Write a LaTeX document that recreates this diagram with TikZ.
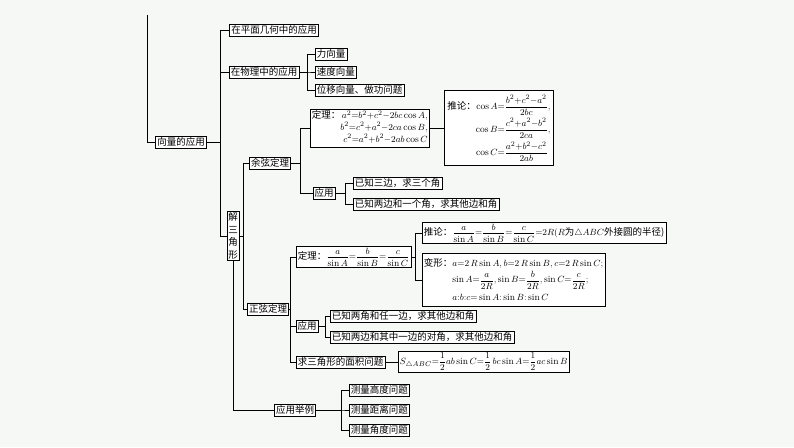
\documentclass[tikz,border=0pt]{standalone}
\usepackage{amsmath}
\usepackage{fontspec}
\newfontfamily\cjk{Noto Sans CJK SC}
\usepackage{tikz}
\definecolor{bgpaper}{RGB}{245,248,245}
\tikzset{
  box/.style={draw, line width=0.7pt, fill=white, inner sep=1.6pt, font=\cjk\fontsize{9.5}{11}\selectfont},
  link/.style={line width=0.7pt}
}
\begin{document}
\begin{tikzpicture}[x=1pt,y=-1pt]
\fill[bgpaper] (0,0) rectangle (794,447);
\useasboundingbox (0,0) rectangle (794,447);
% left trunk
\coordinate (top) at (147,15);
\node[box] (vec) at (181,142) {向量的应用};
\node[box] (plane) at (274,30) {在平面几何中的应用};
\node[box] (phys) at (264,72) {在物理中的应用};
\node[box, anchor=west] (force) at (315,54) {力向量};
\node[box, anchor=west] (speed) at (315,72) {速度向量};
\node[box, anchor=west] (move) at (315,90) {位移向量、做功问题};
\node[box, align=center, inner sep=1.2pt, font=\cjk\fontsize{9.5}{12.5}\selectfont] (tri) at (233,236) {解\\三\\角\\形};
% cosine part
\node[box] (cosl) at (270,163) {余弦定理};
\node[box, anchor=west] (costh) at (310,128) {\begin{tabular}{@{}l@{}r@{}}定理：&$a^2{=}b^2{+}c^2{-}2bc\cos A,$\\&$b^2{=}c^2{+}a^2{-}2ca\cos B,$\\&$c^2{=}a^2{+}b^2{-}2ab\cos C$\end{tabular}};
\node[box, anchor=west, inner sep=3pt] (cosre) at (444,128) {\renewcommand{\arraystretch}{2.1}\begin{tabular}{@{}l@{}r@{}}推论：&$\cos A{=}\dfrac{b^2{+}c^2{-}a^2}{2bc},$\\&$\cos B{=}\dfrac{c^2{+}a^2{-}b^2}{2ca},$\\&$\cos C{=}\dfrac{a^2{+}b^2{-}c^2}{2ab}\phantom{,}$\end{tabular}};
\node[box] (cosuse) at (324,193) {应用};
\node[box, anchor=west] (c1) at (353,183) {已知三边，求三个角};
\node[box, anchor=west] (c2) at (353,204) {已知两边和一个角，求其他边和角};
% sine part
\node[box] (sinl) at (268,309) {正弦定理};
\node[box, anchor=west] (sinth) at (296,257) {定理：$\dfrac{a}{\sin A}{=}\dfrac{b}{\sin B}{=}\dfrac{c}{\sin C}$};
\node[box, anchor=west] (sinre) at (422,233) {推论：$\dfrac{a}{\sin A}{=}\dfrac{b}{\sin B}{=}\dfrac{c}{\sin C}{=}2R(R$为$\triangle ABC$外接圆的半径)};
\node[box, anchor=west] (sinvar) at (422,280) {\renewcommand{\arraystretch}{1.45}\begin{tabular}{@{}l@{}l@{}}变形：&$a{=}2\,R\sin A,b{=}2\,R\sin B,c{=}2\,R\sin C;$\\&$\sin A{=}\dfrac{a}{2R},\sin B{=}\dfrac{b}{2R},\sin C{=}\dfrac{c}{2R};$\\&$a{:}b{:}c{=}\sin A{:}\sin B{:}\sin C$\end{tabular}};
\node[box] (sinuse) at (307,326) {应用};
\node[box, anchor=west] (s1) at (330,316) {已知两角和任一边，求其他边和角};
\node[box, anchor=west] (s2) at (330,337) {已知两边和其中一边的对角，求其他边和角};
\node[box, anchor=west] (area) at (296,362) {求三角形的面积问题};
\node[box, anchor=west] (areaf) at (398,362) {$S_{\triangle ABC}{=}\dfrac12ab\sin C{=}\dfrac12\,bc\sin A{=}\dfrac12ac\sin B$};
% examples
\node[box] (ex) at (295,410) {应用举例};
\node[box, anchor=west] (h1) at (349,390) {测量高度问题};
\node[box, anchor=west] (h2) at (349,410) {测量距离问题};
\node[box, anchor=west] (h3) at (349,430) {测量角度问题};
% connectors
\draw[link] (top) |- (vec.west);
\foreach \c in {plane,phys,tri} \draw[link] (vec.east) -- (220,142) |- (\c.west);
\foreach \c in {force,speed,move} \draw[link] (phys.east) -- (307,72) |- (\c.west);
\foreach \c in {cosl,sinl} \draw[link] (tri.east) -- (243,236) |- (\c.west);
\foreach \c in {costh,cosuse} \draw[link] (cosl.east) -- (300,163) |- (\c.west);
\draw[link] (costh.east) -- (cosre.west);
\foreach \c in {c1,c2} \draw[link] (cosuse.east) -- (345,193) |- (\c.west);
\foreach \c in {sinth,sinuse,area} \draw[link] (sinl.east) -- (290,309) |- (\c.west);
\foreach \c in {sinre,sinvar} \draw[link] (sinth.east) -- (415,257) |- (\c.west);
\foreach \c in {s1,s2} \draw[link] (sinuse.east) -- (325,326) |- (\c.west);
\draw[link] (area.east) -- (areaf.west);
\draw[link] (tri.south) -- (233,410) -- (ex.west);
\foreach \c in {h1,h2,h3} \draw[link] (ex.east) -- (341,410) |- (\c.west);
\end{tikzpicture}
\end{document}
